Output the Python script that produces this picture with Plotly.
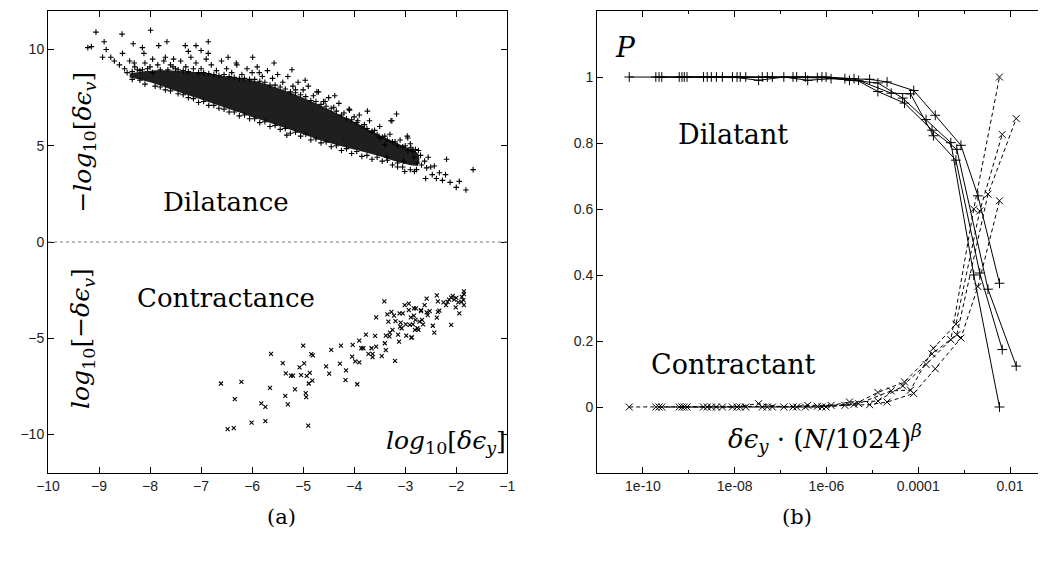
import plotly.graph_objects as go

# ---------------- panel (a): log10 strain increments ----------------
# dilatance events (+): outliers, fringes, tail
dil_pts = [
    (-9.06, 10.9), (-9.22, 10.1), (-9.15, 10.15), (-8.9, 10.4), (-8.86, 10.0),
    (-8.93, 9.6), (-8.77, 9.6), (-8.7, 9.4), (-8.55, 10.8), (-8.54, 9.8),
    (-8.33, 10.3), (-8.31, 9.3), (-8.15, 10.1), (-8.12, 9.8), (-7.99, 11.0),
    (-7.83, 10.2), (-7.67, 10.4), (-7.73, 9.4), (-7.54, 9.5), (-7.31, 10.2),
    (-7.25, 9.9), (-7.10, 10.2), (-7.0, 9.95), (-6.86, 10.4), (-6.86, 9.8),
    (-6.47, 9.6), (-6.31, 9.3), (-5.99, 9.6), (-5.86, 8.8), (-5.57, 9.3),
    (-5.22, 8.95), (-4.96, 8.4), (-5.15, 7.9), (-4.73, 7.8), (-4.38, 7.6),
    (-4.57, 7.3), (-4.09, 6.85), (-3.93, 6.3), (-3.74, 6.8), (-3.28, 6.3),
    (-3.17, 6.65), (-3.26, 6.3), (-2.96, 5.5), (-2.8, 4.8), (-5.32, 5.55),
    (-3.65, 5.7), (-2.95, 5.4), (-2.74, 4.75), (-2.89, 4.9), (-2.62, 4.2),
    (-2.43, 3.95), (-2.19, 4.3), (-1.67, 3.76), (-2.5, 3.9), (-2.33, 3.6),
    (-2.21, 3.5), (-2.6, 3.3), (-2.47, 3.5), (-2.39, 3.3), (-2.27, 3.2),
    (-2.12, 3.1), (-1.94, 3.15), (-2.0, 2.84), (-1.81, 2.7), (-3.03, 4.2),
    (-3.15, 3.9), (-3.01, 3.66), (-2.82, 3.66), (-2.78, 3.76), (-2.83, 4.4),
    (-2.76, 4.1), (-3.4, 5.05), (-3.5, 5.4), (-3.36, 4.4), (-2.68, 4.0),
    (-2.7, 4.5), (-2.55, 4.4), (-2.58, 3.85),
    # upper fringe
    (-8.6, 9.2), (-8.5, 9.0), (-8.4, 9.4), (-8.3, 9.1), (-8.2, 8.9),
    (-8.1, 9.3), (-8.05, 9.0), (-7.95, 9.5), (-7.85, 9.2), (-7.7, 9.6),
    (-7.6, 9.2), (-7.5, 9.0), (-7.4, 9.4), (-7.3, 9.1), (-7.2, 9.6),
    (-7.1, 9.3), (-7.0, 9.0), (-6.9, 9.5), (-6.8, 9.2), (-6.7, 8.9),
    (-6.6, 9.4), (-6.5, 9.0), (-6.4, 8.8), (-6.3, 9.2), (-6.2, 8.7),
    (-6.1, 9.0), (-6.0, 8.8), (-5.9, 9.1), (-5.8, 8.6), (-5.7, 8.9),
    (-5.6, 8.5), (-5.5, 8.7), (-5.4, 8.3), (-5.3, 8.6), (-5.2, 8.1),
    (-5.1, 8.3), (-5.0, 7.9), (-4.9, 8.1), (-4.8, 7.6), (-4.7, 7.8),
    (-4.6, 7.3), (-4.5, 7.5), (-4.4, 7.0), (-4.3, 7.2), (-4.2, 6.7),
    (-4.1, 6.9), (-4.0, 6.5), (-3.9, 6.6), (-3.8, 6.1), (-3.7, 6.3),
    (-3.6, 5.8), (-3.5, 6.0), (-3.4, 5.5), (-3.3, 5.6), (-3.2, 5.2),
    (-3.1, 5.3), (-3.0, 5.0), (-2.9, 5.1), (-2.85, 4.8),
    (-8.45, 8.8), (-8.25, 8.95), (-8.0, 9.1), (-7.8, 8.95), (-7.55, 9.1),
    (-7.35, 8.9), (-7.15, 9.0), (-6.95, 8.8), (-6.75, 8.7), (-6.55, 8.7),
    (-6.35, 8.55), (-6.15, 8.5), (-5.95, 8.45), (-5.75, 8.3), (-5.55, 8.15),
    (-5.35, 7.95), (-5.15, 7.75), (-4.95, 7.55), (-4.75, 7.3), (-4.55, 7.05),
    (-4.35, 6.8), (-4.15, 6.4), (-3.95, 6.2), (-3.75, 5.9), (-3.55, 5.6),
    (-3.35, 5.3), (-3.15, 5.0), (-2.95, 4.75),
    (-8.15, 8.95), (-7.65, 8.95), (-7.25, 8.85), (-6.85, 8.75), (-6.45, 8.6),
    (-6.05, 8.45), (-5.65, 8.15), (-5.25, 7.8), (-4.85, 7.35), (-4.45, 6.95),
    (-4.05, 6.35), (-3.65, 5.75), (-3.25, 5.2), (-2.85, 4.7),
    (-8.35, 8.85), (-7.95, 8.8), (-7.45, 8.95), (-7.05, 8.8), (-6.65, 8.65),
    (-6.25, 8.5), (-5.85, 8.35), (-5.45, 8.05), (-5.05, 7.65), (-4.65, 7.15),
    (-4.25, 6.6), (-3.85, 6.0), (-3.45, 5.45), (-3.05, 4.95),
    # lower fringe
    (-8.35, 8.45), (-8.1, 8.2), (-7.9, 8.1), (-7.7, 7.9), (-7.45, 7.7),
    (-7.25, 7.5), (-7.05, 7.25), (-6.85, 7.1), (-6.65, 6.95), (-6.45, 6.75),
    (-6.25, 6.55), (-6.05, 6.4), (-5.85, 6.2), (-5.65, 6.0), (-5.45, 5.85),
    (-5.25, 5.65), (-5.05, 5.5), (-4.85, 5.3), (-4.65, 5.15), (-4.45, 4.95),
    (-4.25, 4.75), (-4.05, 4.6), (-3.85, 4.45), (-3.65, 4.3), (-3.45, 4.2),
    (-3.25, 4.0), (-3.05, 3.9), (-2.9, 3.75),
    (-8.2, 8.4), (-7.8, 8.05), (-7.6, 7.85), (-7.35, 7.65), (-7.15, 7.45),
    (-6.95, 7.3), (-6.75, 7.1), (-6.55, 6.9), (-6.35, 6.75), (-6.15, 6.6),
    (-5.95, 6.4), (-5.75, 6.25), (-5.55, 6.05), (-5.35, 5.9), (-5.15, 5.7),
    (-4.95, 5.6), (-4.75, 5.35), (-4.55, 5.2), (-4.35, 5.0), (-4.15, 4.85),
    (-3.95, 4.7), (-3.75, 4.5), (-3.55, 4.4), (-3.35, 4.25), (-3.15, 4.1),
]

# outline of the saturated (solid black) part of the dilatance cloud
dil_core_x = [-8.4, -8.0, -7.5, -7.0, -6.5, -6.0, -5.5, -5.0, -4.5, -4.0, -3.5, -3.0, -2.75,
              -2.75, -3.0, -3.5, -4.0, -4.5, -5.0, -5.5, -6.0, -6.5, -7.0, -7.5, -8.0, -8.4]
dil_core_y = [8.75, 8.9, 8.9, 8.8, 8.6, 8.4, 8.0, 7.5, 6.9, 6.25, 5.55, 4.95, 4.6,
              4.0, 4.05, 4.45, 4.8, 5.15, 5.6, 6.05, 6.5, 6.95, 7.4, 7.85, 8.3, 8.55]

# contractance events (x)
con_pts = [
    (-6.61, -7.35), (-6.48, -9.72), (-6.36, -9.67), (-6.34, -8.16), (-6.21, -7.27),
    (-6.01, -9.38), (-5.82, -8.38), (-5.74, -8.56), (-5.74, -9.31), (-5.65, -7.58),
    (-5.63, -5.81), (-5.40, -6.29), (-5.34, -6.82), (-5.35, -7.99), (-5.30, -8.44),
    (-5.24, -6.94), (-5.20, -6.94), (-5.16, -7.66), (-5.07, -6.51), (-5.0, -5.38),
    (-5.04, -6.91), (-4.98, -6.31), (-4.95, -7.85), (-4.94, -8.06), (-4.90, -9.54),
    (-4.93, -6.96), (-4.87, -6.8), (-4.89, -7.35), (-4.84, -5.82), (-4.82, -7.2),
    (-4.81, -5.89), (-4.55, -6.46), (-4.49, -6.84), (-4.45, -5.6), (-4.26, -5.38),
    (-4.28, -6.32), (-4.16, -6.67), (-4.17, -7.18), (-4.03, -5.34), (-4.04, -5.95),
    (-3.98, -6.2), (-3.90, -6.25), (-3.94, -7.39), (-3.90, -5.12), (-3.86, -5.52),
    (-3.82, -5.52), (-3.77, -4.81), (-3.72, -5.81), (-3.66, -5.52), (-3.64, -5.81),
    (-3.64, -5.98), (-3.59, -4.88), (-3.57, -3.92), (-3.57, -5.43), (-3.46, -5.93),
    (-3.40, -5.26), (-3.41, -3.08), (-3.38, -4.86), (-3.38, -5.62), (-3.33, -4.14),
    (-3.35, -3.76), (-3.31, -4.9), (-3.30, -4.71), (-3.27, -3.63), (-3.22, -3.83),
    (-3.25, -4.57), (-3.20, -6.17), (-3.14, -4.81), (-3.12, -5.17), (-3.10, -4.4),
    (-3.09, -4.19), (-3.05, -3.71), (-3.01, -3.28), (-2.99, -4.28), (-2.93, -3.2),
    (-2.93, -3.54), (-2.89, -3.92), (-2.87, -4.95), (-2.85, -4.28), (-2.83, -3.45),
    (-2.80, -4.05), (-2.81, -4.57), (-2.76, -4.48), (-2.72, -4.14), (-2.69, -3.54),
    (-3.19, -4.11), (-3.11, -3.71), (-3.07, -4.48), (-2.98, -4.86), (-2.91, -4.31),
    (-2.88, -4.97), (-2.83, -3.83), (-2.79, -3.45), (-2.74, -4.57), (-2.67, -4.05),
    (-2.65, -4.28), (-2.62, -3.28), (-2.58, -2.94), (-2.56, -3.80), (-2.52, -3.59),
    (-2.46, -4.35), (-2.43, -4.71), (-2.38, -3.93), (-2.36, -3.63), (-2.33, -3.56),
    (-2.36, -3.08), (-2.38, -2.77), (-2.25, -3.14), (-2.20, -3.28), (-2.17, -3.11),
    (-2.14, -2.99), (-2.10, -4.31), (-2.10, -2.89), (-2.07, -2.80), (-2.04, -2.99),
    (-2.00, -2.9), (-2.01, -3.40), (-1.96, -3.14), (-1.94, -3.71), (-1.90, -3.11),
    (-1.89, -2.85), (-1.85, -2.56), (-1.85, -2.71), (-1.85, -3.28), (-1.86, -3.02),
    (-2.58, -3.66), (-2.69, -3.59),
]

# ---------------- panel (b): probability vs scaled strain ----------------
# log10 of the scaled strain for the four system sizes
strain_log = [
    [-10.30, -9.72, -9.10, -8.51, -7.95, -7.40, -6.73, -6.20, -5.60, -5.06, -4.68, -4.10, -3.63, -3.07, -2.70, -2.23],
    [-9.59, -9.04, -8.40, -7.88, -7.29, -6.65, -6.10, -5.50, -4.88, -4.34, -3.83, -3.29, -2.79, -2.23],
    [-9.21, -8.68, -8.27, -7.76, -7.18, -6.46, -6.01, -5.40, -4.88, -4.30, -3.70, -3.16, -2.48, -1.865],
    [-9.65, -9.15, -8.60, -8.05, -7.48, -6.93, -6.41, -5.90, -5.30, -4.59, -4.17, -3.67, -3.18, -2.66, -2.17],
]
p_dilatant = [
    [1, 1, 1, 1, 1, 1, 1, 0.998, 0.995, 0.993, 0.985, 0.959, 0.884, 0.793, 0.64, 0.375],
    [1, 1, 1, 1, 1, 1, 1, 0.99, 0.982, 0.936, 0.871, 0.801, 0.40, 0.0],
    [1, 1, 1, 1, 1, 1, 1, 0.995, 0.956, 0.921, 0.839, 0.781, 0.357, 0.124],
    [1, 1, 1, 1, 0.99, 1, 0.99, 0.995, 0.99, 0.951, 0.949, 0.822, 0.748, 0.406, 0.174],
]
p_contractant = [
    [0, 0, 0, 0, 0, 0, 0, 0.002, 0.005, 0.007, 0.015, 0.041, 0.116, 0.209, 0.365, 0.625],
    [0, 0, 0, 0, 0, 0, 0, 0.015, 0.018, 0.064, 0.129, 0.204, 0.60, 1.0],
    [0, 0, 0, 0, 0, 0, 0, 0.008, 0.044, 0.076, 0.161, 0.219, 0.645, 0.874],
    [0, 0, 0, 0, 0.01, 0, 0.005, 0.005, 0.01, 0.049, 0.051, 0.178, 0.251, 0.594, 0.826],
]

x_ticks_b = [10 ** k for k in (-10, -8, -6, -4, -2)]
x_ticktext_b = ["1e-10", "1e-08", "1e-06", "0.0001", "0.01"]
x_minor_b = [10 ** k for k in (-11, -9, -7, -5, -3)]

TICKFONT = dict(family="Liberation Sans, Arial, sans-serif", size=14, color="#222")
SERIF = "DejaVu Serif, serif"

fig = go.Figure()

# --- (a)
fig.add_trace(go.Scatter(x=dil_core_x, y=dil_core_y, mode="lines", fill="toself",
                         fillcolor="rgba(0,0,0,0.88)", line=dict(width=0),
                         line_shape="spline", hoverinfo="skip", xaxis="x", yaxis="y"))
fig.add_trace(go.Scatter(x=[p[0] for p in dil_pts], y=[p[1] for p in dil_pts], mode="markers",
                         marker=dict(symbol="cross-thin", size=4, line=dict(width=1.1, color="black")),
                         xaxis="x", yaxis="y"))
fig.add_trace(go.Scatter(x=[p[0] for p in con_pts], y=[p[1] for p in con_pts], mode="markers",
                         marker=dict(symbol="x-thin", size=4, line=dict(width=1.1, color="black")),
                         xaxis="x", yaxis="y"))

# --- (b)
for xs, ps in zip(strain_log, p_dilatant):
    fig.add_trace(go.Scatter(x=[10 ** v for v in xs], y=ps, mode="lines+markers",
                             line=dict(color="black", width=1),
                             marker=dict(symbol="cross-thin", size=7, line=dict(width=1, color="black")),
                             xaxis="x2", yaxis="y2"))
for xs, ps in zip(strain_log, p_contractant):
    fig.add_trace(go.Scatter(x=[10 ** v for v in xs], y=ps, mode="lines+markers",
                             line=dict(color="black", width=1, dash="4px,3px"),
                             marker=dict(symbol="x-thin", size=7, line=dict(width=1, color="black")),
                             xaxis="x2", yaxis="y2"))

axis_common = dict(showline=True, linecolor="black", linewidth=1, ticks="inside",
                   ticklen=6, tickcolor="black", showgrid=False, zeroline=False,
                   tickfont=TICKFONT)

fig.update_layout(
    width=1046, height=575,
    margin=dict(l=40, r=0, t=3, b=110),
    paper_bgcolor="white", plot_bgcolor="white",
    showlegend=False,
    xaxis=dict(domain=[0, 0.4602], range=[-10, -1], tickvals=list(range(-10, 0)),
               mirror="ticks", anchor="y", **axis_common),
    yaxis=dict(domain=[0, 1], range=[-12, 12], tickvals=[-10, -5, 0, 5, 10],
               mirror="ticks", anchor="x", **axis_common),
    xaxis2=dict(domain=[0.5502, 1], type="log", range=[-11, -1.216],
                tickvals=x_ticks_b, ticktext=x_ticktext_b, mirror="ticks", anchor="y2",
                minor=dict(tickvals=x_minor_b, ticks="inside", ticklen=3, tickcolor="black"),
                **axis_common),
    yaxis2=dict(domain=[0, 1], range=[-0.2, 1.2], tickvals=[0, 0.2, 0.4, 0.6, 0.8, 1],
                ticktext=["0", "0.2", "0.4", "0.6", "0.8", "1"], mirror=False, anchor="x2",
                **axis_common),
)

fig.add_shape(type="line", xref="x", yref="y", x0=-10, x1=-1, y0=0, y1=0,
              line=dict(color="#777", width=1, dash="dot"))

ann = [
    dict(x=-9.30, y=5.2, xref="x", yref="y", textangle=-90, size=25,
         text="−<i>log</i><sub>10</sub>[<i>δϵ</i><sub><i>v</i></sub>]"),
    dict(x=-9.32, y=-5.0, xref="x", yref="y", textangle=-90, size=25,
         text="<i>log</i><sub>10</sub>[−<i>δϵ</i><sub><i>v</i></sub>]"),
    dict(x=-6.52, y=2.09, xref="x", yref="y", size=26, text="Dilatance"),
    dict(x=-6.52, y=-2.89, xref="x", yref="y", size=26, text="Contractance"),
    dict(x=-2.20, y=-10.4, xref="x", yref="y", size=25,
         text="<i>log</i><sub>10</sub>[<i>δϵ</i><sub><i>y</i></sub>]"),
    dict(x=-10.38, y=1.09, xref="x2", yref="y2", size=28, text="<i>P</i>"),
    dict(x=-8.03, y=0.825, xref="x2", yref="y2", size=27, text="Dilatant"),
    dict(x=-8.03, y=0.13, xref="x2", yref="y2", size=27, text="Contractant"),
    dict(x=-6.03, y=-0.095, xref="x2", yref="y2", size=26,
         text="<i>δϵ</i><sub><i>y</i></sub> · (<i>N</i>/1024)<sup><i>β</i></sup>"),
    dict(x=0.2177, y=-0.125, xref="paper", yref="paper", size=21, text="(a)"),
    dict(x=0.7674, y=-0.125, xref="paper", yref="paper", size=21, text="(b)"),
]
for a in ann:
    fig.add_annotation(x=a["x"], y=a["y"], xref=a["xref"], yref=a["yref"], text=a["text"],
                       showarrow=False, textangle=a.get("textangle", 0),
                       font=dict(family=SERIF, size=a["size"], color="black"))

fig.write_html("out.html")
